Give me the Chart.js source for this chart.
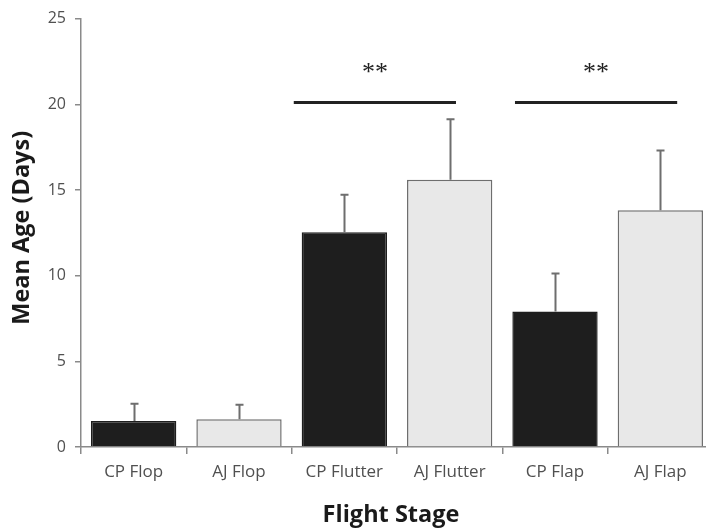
<!DOCTYPE html>
<html>
<head>
<meta charset="utf-8">
<script src="https://cdn.jsdelivr.net/npm/chart.js@4/dist/chart.umd.min.js"></script>
<style>
  html, body { margin: 0; padding: 0; background: #ffffff; overflow: hidden; }
  #wrap { width: 720px; height: 529px; }
</style>
</head>
<body>
<div id="wrap"><canvas id="chart" width="720" height="529"></canvas></div>
<script>
// Flight stage groups, two populations (CP, AJ) per stage
const categories = ['CP Flop', 'AJ Flop', 'CP Flutter', 'AJ Flutter', 'CP Flap', 'AJ Flap'];
const meanAge = [1.52, 1.62, 12.53, 15.59, 7.91, 13.82];
const errorUpper = [1.00, 0.85, 2.19, 3.54, 2.21, 3.48];
const yTicks = [0, 5, 10, 15, 20, 25];

// Significance brackets: compared groups (category indices), bracket level, label
const sigPairs = [[2, 3], [4, 5]];
const sigLevel = 20.1;
const sigLabel = '**';

const darkFill = '#1e1e1e';
const lightFill = '#e8e8e8';
const populationFill = categories.map(c => c.startsWith('CP') ? darkFill : lightFill);
const populationBorder = categories.map(c => c.startsWith('CP') ? darkFill : '#6e6e6e');

const FONT = '"Open Sans", sans-serif';
// horizontal extent of each bracket, relative to the compared bar centres (in category units)
const bracketReach = [[-0.48, 0.06], [-0.38, 0.16]];

const annotations = {
  id: 'annotations',
  afterDatasetsDraw(chart) {
    const { ctx, chartArea, scales: { x, y } } = chart;
    ctx.save();
    // upper error bars
    ctx.strokeStyle = '#6e6e6e';
    ctx.lineWidth = 2;
    meanAge.forEach((v, i) => {
      const cx = Math.round(x.getPixelForValue(i)) + 0.5;
      const y0 = y.getPixelForValue(v);
      const y1 = y.getPixelForValue(v + errorUpper[i]);
      ctx.beginPath();
      ctx.moveTo(cx, y0);
      ctx.lineTo(cx, y1);
      ctx.moveTo(cx - 4, y1);
      ctx.lineTo(cx + 4, y1);
      ctx.stroke();
    });
    // significance brackets
    ctx.strokeStyle = '#222222';
    ctx.lineWidth = 3;
    ctx.fillStyle = '#222222';
    ctx.font = '26px "Liberation Serif", serif';
    ctx.textAlign = 'center';
    ctx.textBaseline = 'alphabetic';
    sigPairs.forEach(([a, b], k) => {
      const xa = x.getPixelForValue(a + bracketReach[k][0]);
      const xb = x.getPixelForValue(b + bracketReach[k][1]);
      const ly = y.getPixelForValue(sigLevel);
      ctx.beginPath();
      ctx.moveTo(xa, ly);
      ctx.lineTo(xb, ly);
      ctx.stroke();
      ctx.fillText(sigLabel, (xa + xb) / 2, ly - 23);
    });
    // axis titles
    ctx.fillStyle = '#1a1a1a';
    ctx.font = 'bold 23.5px ' + FONT;
    ctx.textAlign = 'center';
    ctx.textBaseline = 'alphabetic';
    ctx.fillText('Flight Stage', (chartArea.left + chartArea.right) / 2 - 6, 521.5);
    ctx.translate(29, (chartArea.top + chartArea.bottom) / 2 - 5);
    ctx.rotate(-Math.PI / 2);
    ctx.fillText('Mean Age (Days)', 0, 0);
    ctx.restore();
  }
};

new Chart(document.getElementById('chart'), {
  type: 'bar',
  data: {
    labels: categories,
    datasets: [{
      data: meanAge,
      backgroundColor: populationFill,
      borderColor: populationBorder,
      borderWidth: 1.5,
      borderSkipped: 'bottom',
      categoryPercentage: 1.0,
      barPercentage: 0.81
    }]
  },
  options: {
    responsive: false,
    animation: false,
    layout: { padding: { left: 0, right: 7, top: 14, bottom: 0 } },
    plugins: { legend: { display: false }, tooltip: { enabled: false } },
    scales: {
      x: {
        grid: { display: true, drawOnChartArea: false, offset: true, tickLength: 7, color: '#8a8a8a', lineWidth: 1.5 },
        border: { display: true, color: '#8a8a8a', width: 1.5 },
        ticks: { color: '#505050', font: { family: FONT, size: 17 }, padding: 8, maxRotation: 0 },
        afterFit(scale) { scale.height = 82; }
      },
      y: {
        min: 0,
        max: 25,
        afterBuildTicks(scale) { scale.ticks = yTicks.map(v => ({ value: v })); },
        grid: { display: true, drawOnChartArea: false, tickLength: 6, color: '#8a8a8a', lineWidth: 1.5 },
        border: { display: true, color: '#8a8a8a', width: 1.5 },
        ticks: { color: '#505050', font: { family: FONT, size: 16 }, padding: 9 },
        afterFit(scale) { scale.width = 81; }
      }
    }
  },
  plugins: [annotations]
});
</script>
</body>
</html>
